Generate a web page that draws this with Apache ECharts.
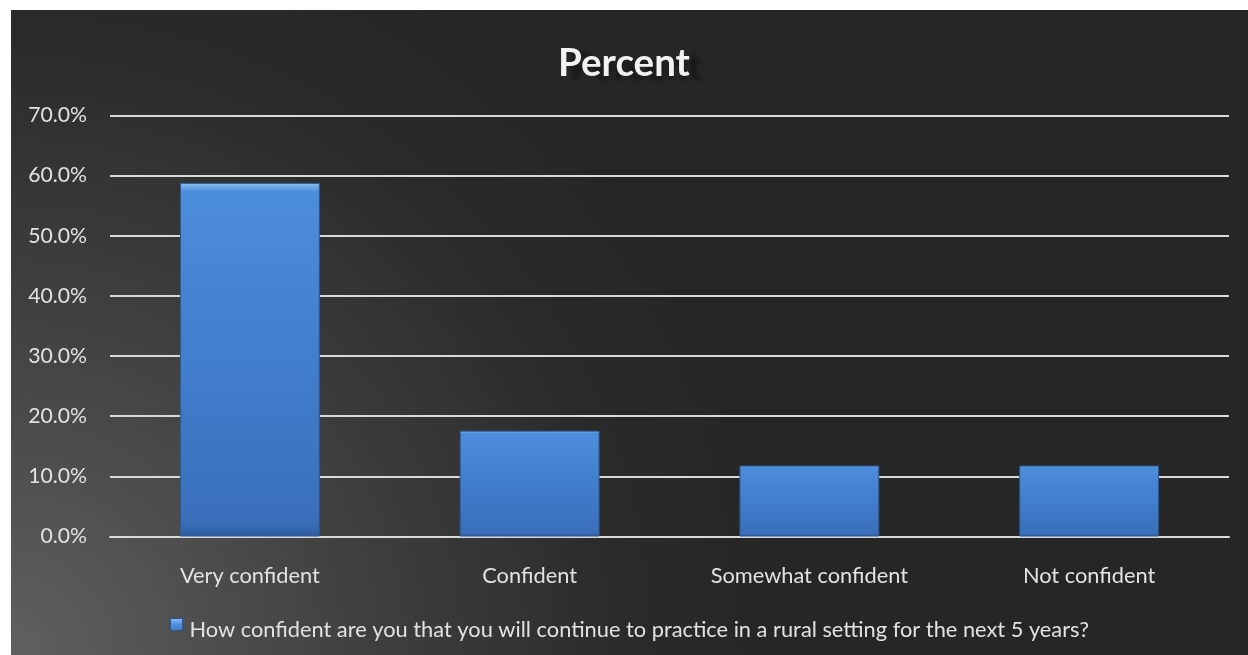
<!DOCTYPE html>
<html>
<head>
<meta charset="utf-8">
<script src="https://cdn.jsdelivr.net/npm/echarts@6/dist/echarts.min.js"></script>
<style>
html,body{margin:0;padding:0;background:#fff;}
#chart{width:1248px;height:655px;}
</style>
</head>
<body>
<div id="chart"></div>
<script>
const categories = ['Very confident', 'Confident', 'Somewhat confident', 'Not confident'];
const seriesName = 'How confident are you that you will continue to practice in a rural setting for the next 5 years?';
const values = [0.588, 0.176, 0.118, 0.118];
const yTicks = { min: 0, max: 0.7, interval: 0.1 };

const chart = echarts.init(document.getElementById('chart'));
const barFill = new echarts.graphic.LinearGradient(0, 0, 0, 1, [
  { offset: 0, color: '#8cc0f5' },
  { offset: 0.025, color: '#4c8ddc' },
  { offset: 0.5, color: '#417ecd' },
  { offset: 0.96, color: '#3a6fba' },
  { offset: 1, color: '#2f5d9e' }
]);
const iconFill = new echarts.graphic.LinearGradient(0, 0, 0, 1, [
  { offset: 0, color: '#8cc0f5' },
  { offset: 0.3, color: '#4c8ddc' },
  { offset: 1, color: '#2f5d9e' }
]);
const font = 'Lato, "Open Sans", sans-serif';
chart.setOption({
  backgroundColor: '#ffffff',
  animation: false,
  graphic: [{
    type: 'rect',
    z: -10,
    silent: true,
    shape: { x: 11, y: 10, width: 1237, height: 645 },
    style: {
      fill: new echarts.graphic.RadialGradient(0, 1, 1.2, [
        { offset: 0, color: '#606060' },
        { offset: 0.45, color: '#404040' },
        { offset: 0.8, color: '#2a2a2a' },
        { offset: 1, color: '#262626' }
      ])
    }
  }],
  title: {
    text: 'Percent',
    left: 'center',
    top: 39,
    textStyle: {
      color: '#f2f2f2',
      fontSize: 38.5,
      fontWeight: 'bold',
      fontFamily: font,
      textShadowColor: 'rgba(0,0,0,0.45)',
      textShadowOffsetX: 12,
      textShadowOffsetY: 4,
      textShadowBlur: 4
    }
  },
  grid: { left: 110, right: 19, top: 115.5, bottom: 118.5, containLabel: false },
  legend: {
    show: true,
    left: 165,
    top: 613,
    itemWidth: 12,
    itemHeight: 22,
    itemGap: 10,
    icon: 'path://M0,0L12,0L12,12L0,12Z M0,22',
    textStyle: { color: '#e2e2e2', fontSize: 21.8, fontFamily: font, padding: [0, 0, 0, 2] },
    data: [{ name: seriesName, itemStyle: { color: iconFill, borderColor: '#2b5793', borderWidth: 1 } }]
  },
  xAxis: {
    type: 'category',
    data: categories,
    axisLine: { show: true, lineStyle: { color: '#d9d9d9', width: 2 } },
    axisTick: { show: false },
    axisLabel: { color: '#e2e2e2', fontSize: 21.8, fontFamily: font, margin: 28 }
  },
  yAxis: {
    type: 'value',
    min: yTicks.min,
    max: yTicks.max,
    interval: yTicks.interval,
    axisLine: { show: false },
    axisTick: { show: false },
    splitLine: { show: true, lineStyle: { color: '#d9d9d9', width: 2 } },
    axisLabel: {
      color: '#e2e2e2', fontSize: 21.2, fontFamily: font, margin: 23,
      formatter: v => (v * 100).toFixed(1) + '%'
    }
  },
  series: [{
    name: seriesName,
    type: 'bar',
    data: values,
    barWidth: '50%',
    itemStyle: { color: barFill, borderColor: '#2b5793', borderWidth: 1 }
  }]
});
</script>
</body>
</html>
